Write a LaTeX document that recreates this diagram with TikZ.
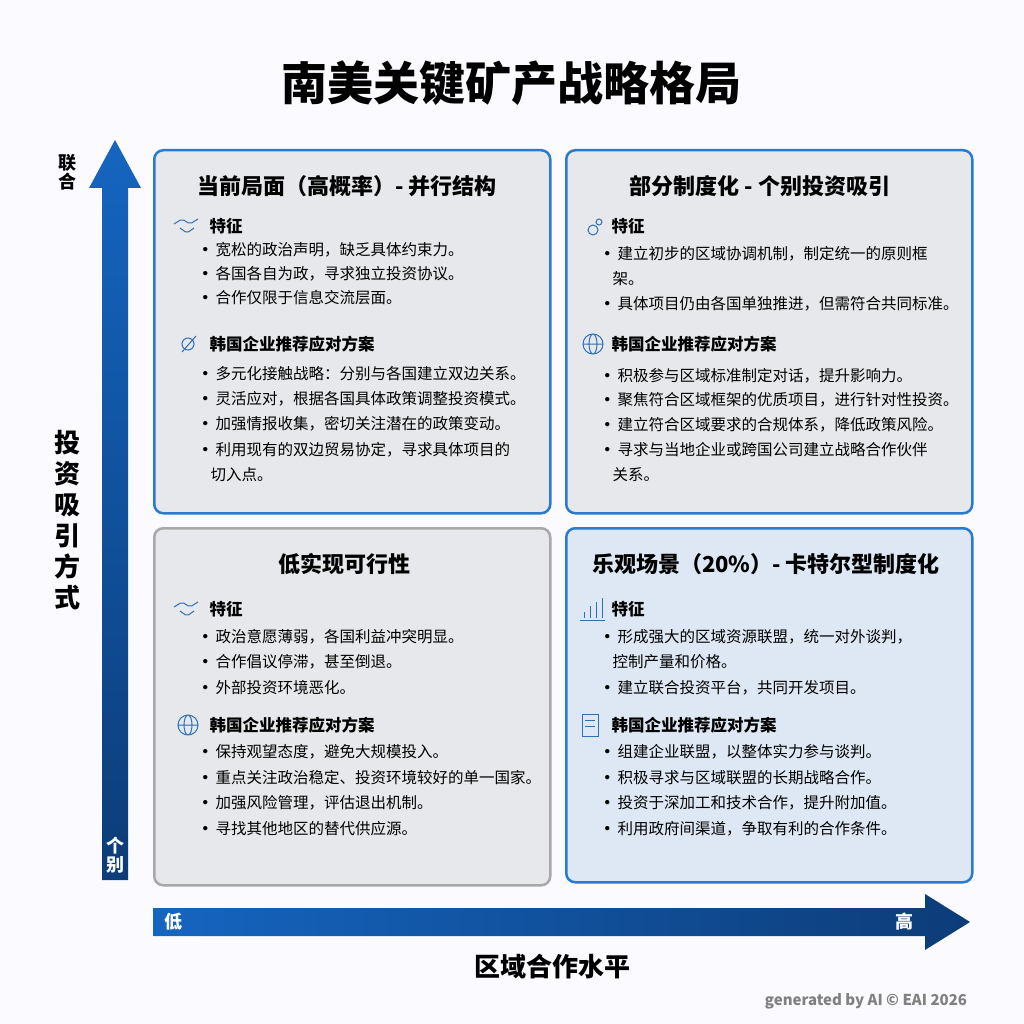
\documentclass[tikz,border=0pt]{standalone}
\usepackage{fontspec}
\setmainfont{Noto Sans CJK SC}
\usetikzlibrary{arrows.meta}
\definecolor{axisblue}{HTML}{1565C0}
\definecolor{darkblue}{HTML}{0D3C78}
\definecolor{boxgrey}{HTML}{E6E8EB}
\definecolor{boxline}{HTML}{2A7AD0}
\definecolor{greyline}{HTML}{A8A8A8}
\definecolor{lightblue}{HTML}{DDE8F4}
\definecolor{iconblue}{HTML}{2F6FB5}
\tikzset{
  quad/.style={draw=boxline,line width=2.5pt,rounded corners=9pt},
  qtitle/.style={font=\fontsize{22}{22}\selectfont\bfseries},
  qhead/.style={anchor=west,font=\fontsize{16.5}{16}\selectfont\bfseries},
  qline/.style={anchor=west,font=\fontsize{15.5}{16}\selectfont},
  icon/.style={draw=iconblue,line width=1pt}
}
\newcommand{\bul}[3]{\node[qline] at (#1,#2) {{\bfseries •}\,#3};}
\newcommand{\cont}[3]{\node[qline] at (#1+13,#2) {#3};}
\begin{document}
\begin{tikzpicture}[x=1pt,y=-1pt]
  \fill[white!90!blue!20] (0,0) rectangle (1024,1024);
  \useasboundingbox (0,0) rectangle (1024,1024);

  % title
  \node[font=\fontsize{46}{46}\selectfont\bfseries] (title) at (511,83) {南美关键矿产战略格局};

  % quadrants
  \node[quad,fill=boxgrey,minimum width=396pt,minimum height=363pt,anchor=north west] (tl) at (153,149) {};
  \node[quad,fill=boxgrey,minimum width=406pt,minimum height=363pt,anchor=north west] (tr) at (565,149) {};
  \node[quad,draw=greyline,fill=boxgrey,minimum width=396pt,minimum height=357pt,anchor=north west] (bl) at (153,527) {};
  \node[quad,fill=lightblue,minimum width=406pt,minimum height=354pt,anchor=north west] (br) at (565,527) {};

  % axes
  \shade[bottom color=darkblue,top color=axisblue] (102,880) -- (102,188) -- (89,188) -- (115,140) -- (141,188) -- (128,188) -- (128,880) -- cycle;
  \shade[left color=axisblue,right color=darkblue] (153,908) -- (925,908) -- (925,894) -- (970,922) -- (925,950) -- (925,936) -- (153,936) -- cycle;
  \node[font=\fontsize{18}{19}\selectfont\bfseries,align=center] (join) at (67,172) {联\\合};
  \node[font=\fontsize{18}{19}\selectfont\bfseries,align=center,text=white] (indiv) at (115,855) {个\\别};
  \node[font=\fontsize{26}{31}\selectfont\bfseries,align=center] (ylab) at (67,520) {投\\资\\吸\\引\\方\\式};
  \node[font=\fontsize{18}{18}\selectfont\bfseries,text=white] (low) at (173,922) {低};
  \node[font=\fontsize{18}{18}\selectfont\bfseries,text=white] (high) at (904,922) {高};
  \node[font=\fontsize{26}{26}\selectfont\bfseries] (xlab) at (552,967) {区域合作水平};
  \node[font=\fontsize{15}{15}\selectfont\bfseries,text=gray] (credit) at (866,1001) {generated by AI © EAI 2026};

  % icons
  \foreach \x/\y in {188/226,188/609}{
    \draw[icon,rounded corners=2pt] (\x-14,\y-2) -- (\x-6,\y-7) -- (\x+2,\y-2) -- (\x+10,\y-7) (\x-8,\y+2) -- (\x-1,\y+7) -- (\x+6,\y+2);}
  \foreach \x/\y in {188/725,593/344}{
    \draw[icon] (\x,\y) circle (10pt) (\x-10,\y) -- (\x+10,\y) (\x,\y) ellipse (4pt and 10pt);}
  \draw[icon] (188,344) circle (6pt) (182,352) -- (196,336);
  \draw[icon] (593,230) circle (5pt) (599,222) circle (3pt);
  \draw[icon] (580,620) -- (605,620) (584,618) -- (584,612) (590,618) -- (590,606) (596,618) -- (596,602) (602,618) -- (602,598);
  \draw[icon] (582,714) rectangle (598,736) (585,720) -- (595,720) (585,726) -- (595,726);

  % top left
  \node[qtitle] (tlt) at (347,186) {当前局面（高概率）- 并行结构};
  \node[qhead] at (206,226) {特征};
  \bul{194}{250}{宽松的政治声明，缺乏具体约束力。}
  \bul{194}{274}{各国各自为政，寻求独立投资协议。}
  \bul{194}{298}{合作仅限于信息交流层面。}
  \node[qhead] at (206,344) {韩国企业推荐应对方案};
  \bul{194}{374}{多元化接触战略：分别与各国建立双边关系。}
  \bul{194}{399}{灵活应对，根据各国具体政策调整投资模式。}
  \bul{194}{424}{加强情报收集，密切关注潜在的政策变动。}
  \bul{194}{450}{利用现有的双边贸易协定，寻求具体项目的}
  \cont{194}{475}{切入点。}

  % top right
  \node[qtitle] (trt) at (760,186) {部分制度化 - 个别投资吸引};
  \node[qhead] at (608,226) {特征};
  \bul{596}{254}{建立初步的区域协调机制，制定统一的原则框}
  \cont{596}{279}{架。}
  \bul{596}{304}{具体项目仍由各国单独推进，但需符合共同标准。}
  \node[qhead] at (608,344) {韩国企业推荐应对方案};
  \bul{596}{376}{积极参与区域标准制定对话，提升影响力。}
  \bul{596}{400}{聚焦符合区域框架的优质项目，进行针对性投资。}
  \bul{596}{425}{建立符合区域要求的合规体系，降低政策风险。}
  \bul{596}{450}{寻求与当地企业或跨国公司建立战略合作伙伴}
  \cont{596}{475}{关系。}

  % bottom left
  \node[qtitle] (blt) at (344,564) {低实现可行性};
  \node[qhead] at (206,609) {特征};
  \bul{194}{637}{政治意愿薄弱，各国利益冲突明显。}
  \bul{194}{662}{合作倡议停滞，甚至倒退。}
  \bul{194}{688}{外部投资环境恶化。}
  \node[qhead] at (206,725) {韩国企业推荐应对方案};
  \bul{194}{752}{保持观望态度，避免大规模投入。}
  \bul{194}{778}{重点关注政治稳定、投资环境较好的单一国家。}
  \bul{194}{803}{加强风险管理，评估退出机制。}
  \bul{194}{829}{寻找其他地区的替代供应源。}

  % bottom right
  \node[qtitle] (brt) at (766,564) {乐观场景（20\%）- 卡特尔型制度化};
  \node[qhead] at (608,609) {特征};
  \bul{596}{637}{形成强大的区域资源联盟，统一对外谈判，}
  \cont{596}{662}{控制产量和价格。}
  \bul{596}{688}{建立联合投资平台，共同开发项目。}
  \node[qhead] at (608,725) {韩国企业推荐应对方案};
  \bul{596}{752}{组建企业联盟，以整体实力参与谈判。}
  \bul{596}{778}{积极寻求与区域联盟的长期战略合作。}
  \bul{596}{803}{投资于深加工和技术合作，提升附加值。}
  \bul{596}{829}{利用政府间渠道，争取有利的合作条件。}
\end{tikzpicture}
\end{document}
